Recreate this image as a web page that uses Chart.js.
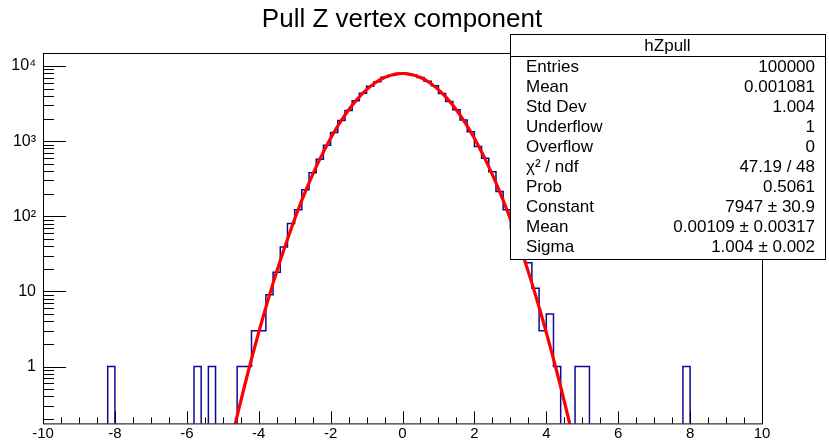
<!DOCTYPE html>
<html>
<head>
<meta charset="utf-8">
<script src="https://cdn.jsdelivr.net/npm/chart.js@4.4.1/dist/chart.umd.min.js"></script>
<style>
html, body { margin: 0; padding: 0; background: #fff; }
#wrap { width: 829px; height: 440px; }
</style>
</head>
<body>
<div id="wrap"><canvas id="c" width="829" height="440"></canvas></div>
<script>
// histogram hZpull: 100 bins of 0.2 from -10 to 10
const xMin = -10, xMax = 10, binWidth = 0.2;
const counts = [
	0, 0, 0, 0, 0, 0, 0, 0, 0, 1,
	0, 0, 0, 0, 0, 0, 0, 0, 0, 0,
	0, 1, 0, 1, 0, 0, 0, 1, 1, 3,
	3, 9, 18, 39, 80, 122, 225, 380, 575, 880,
	1300, 1880, 2560, 3450, 4330, 5390, 6180, 7080, 7560, 7930,
	7890, 7620, 7010, 6260, 5480, 4320, 3360, 2620, 1910, 1330,
	850, 590, 392, 213, 122, 68, 36, 24, 11, 3,
	5, 1, 0, 0, 1, 1, 0, 0, 0, 0,
	0, 0, 0, 0, 0, 0, 0, 0, 0, 1,
	0, 0, 0, 0, 0, 0, 0, 0, 0, 0
];

// gaus fit curve
const fitX = [-4.7, -4.5, -4.3, -4.1, -3.9, -3.7, -3.5, -3.3, -3.1, -2.9, -2.7, -2.5,
	-2.3, -2.1, -1.9, -1.7, -1.5, -1.3, -1.1, -0.9, -0.7, -0.5, -0.3, -0.1, 0,
	0.1, 0.3, 0.5, 0.7, 0.9, 1.1, 1.3, 1.5, 1.7, 1.9, 2.1, 2.3,
	2.5, 2.7, 2.9, 3.1, 3.3, 3.5, 3.7, 3.9, 4.1, 4.3, 4.5, 4.7];
const fitY = [0.138, 0.345, 0.826, 1.90, 4.20, 8.93, 18.3, 35.8, 67.6, 123, 214, 358,
	576, 891, 1326, 1895, 2603, 3437, 4361, 5317, 6232, 7020, 7600, 7908, 7947,
	7908, 7600, 7020, 6232, 5317, 4361, 3437, 2603, 1895, 1326, 891, 576,
	358, 214, 123, 67.6, 35.8, 18.3, 8.93, 4.20, 1.90, 0.826, 0.345, 0.138];

const yMin = 0.175, yMax = 14900;
const yMajor = [1, 10, 100, 1000, 10000];
const yLabels = ['1', '10', '10²', '10³', '10⁴'];

const title = 'Pull Z vertex component';
const statsTitle = 'hZpull';
const statsNames = ['Entries', 'Mean', 'Std Dev', 'Underflow', 'Overflow',
	'χ² / ndf', 'Prob', 'Constant', 'Mean', 'Sigma'];
const statsValues = ['100000', '0.001081', '1.004', '1', '0',
	'47.19 / 48', '0.5061', '7947 ± 30.9', '0.00109 ± 0.00317', '1.004 ± 0.002'];

const font = '"Liberation Sans", Arial, sans-serif';

// step outline, empty bins pushed below the axis so they get clipped
const histPoints = counts.map((c, i) => ({x: xMin + i * binWidth, y: c > 0 ? c : 1e-3}));
histPoints.push({x: xMax, y: histPoints[histPoints.length - 1].y});
const fitPoints = fitX.map((x, i) => ({x: x, y: fitY[i]}));

const rootFrame = {
	id: 'rootFrame',
	beforeDraw(chart) {
		const ctx = chart.ctx;
		ctx.save();
		ctx.fillStyle = '#fff';
		ctx.fillRect(0, 0, chart.width, chart.height);
		ctx.fillStyle = '#000';
		ctx.font = '26px ' + font;
		ctx.textAlign = 'center';
		ctx.textBaseline = 'alphabetic';
		ctx.fillText(title, 402, 27);
		ctx.restore();
	},
	afterDatasetsDraw(chart) {
		const {ctx, chartArea: a, scales: {x, y}} = chart;
		ctx.save();
		ctx.strokeStyle = '#000';
		ctx.lineWidth = 1;
		ctx.strokeRect(a.left + 0.5, a.top + 0.5, a.right - a.left, a.bottom - a.top);
		ctx.beginPath();
		for (let v = xMin; v <= xMax + 1e-9; v += 0.5) {
			const px = Math.round(x.getPixelForValue(v)) + 0.5;
			const len = Math.abs(v % 2) < 1e-9 ? 12 : 6;
			ctx.moveTo(px, a.bottom);
			ctx.lineTo(px, a.bottom - len);
		}
		for (let d = -1; d <= 4; d++) {
			for (let m = 1; m < 10; m++) {
				const v = m * Math.pow(10, d);
				if (v < yMin || v > yMax) continue;
				const py = Math.round(y.getPixelForValue(v)) + 0.5;
				ctx.moveTo(a.left, py);
				ctx.lineTo(a.left + (m === 1 ? 23 : 11), py);
			}
		}
		ctx.stroke();

		// stats box
		const bx = 510, by = 34, bw = 315, bh = 225;
		ctx.fillStyle = '#fff';
		ctx.fillRect(bx, by, bw, bh);
		ctx.strokeRect(bx + 0.5, by + 0.5, bw, bh);
		ctx.beginPath();
		ctx.moveTo(bx, by + 22.5);
		ctx.lineTo(bx + bw, by + 22.5);
		ctx.stroke();
		ctx.fillStyle = '#000';
		ctx.font = '17px ' + font;
		ctx.textBaseline = 'middle';
		ctx.textAlign = 'center';
		ctx.fillText(statsTitle, bx + bw / 2, by + 12);
		statsNames.forEach((n, i) => {
			const ty = 67 + i * 20.05;
			ctx.textAlign = 'left';
			ctx.fillText(n, 526, ty);
			ctx.textAlign = 'right';
			ctx.fillText(statsValues[i], 815, ty);
		});
		ctx.restore();
	}
};

new Chart(document.getElementById('c'), {
	type: 'line',
	data: {
		datasets: [{
			label: 'gaus',
			data: fitPoints,
			borderColor: '#ff0000',
			borderWidth: 3.2,
			pointRadius: 0,
			tension: 0.3,
			clip: 0
		}, {
			label: statsTitle,
			data: histPoints,
			borderColor: '#0a0a96',
			borderWidth: 1.5,
			pointRadius: 0,
			stepped: true,
			clip: 0
		}]
	},
	plugins: [rootFrame],
	options: {
		responsive: false,
		animation: false,
		layout: {padding: {top: 53, right: 67, left: 0, bottom: 0}},
		plugins: {
			legend: {display: false},
			tooltip: {enabled: false}
		},
		scales: {
			x: {
				type: 'linear',
				min: xMin,
				max: xMax,
				grid: {display: false, drawTicks: false},
				border: {display: false},
				ticks: {
					stepSize: 2,
					autoSkip: false,
					maxRotation: 0,
					padding: 1,
					color: '#000',
					font: {family: font, size: 15},
					callback: (v) => String(v)
				},
				afterFit: (s) => { s.height = 16; }
			},
			y: {
				type: 'logarithmic',
				min: yMin,
				max: yMax,
				grid: {display: false, drawTicks: false},
				border: {display: false},
				ticks: {
					autoSkip: false,
					padding: 7,
					color: '#000',
					font: {family: font, size: 16},
					callback: (v) => yLabels[yMajor.indexOf(v)]
				},
				afterBuildTicks: (s) => { s.ticks = yMajor.map((v) => ({value: v})); },
				afterFit: (s) => { s.width = 43; }
			}
		}
	}
});
</script>
</body>
</html>
